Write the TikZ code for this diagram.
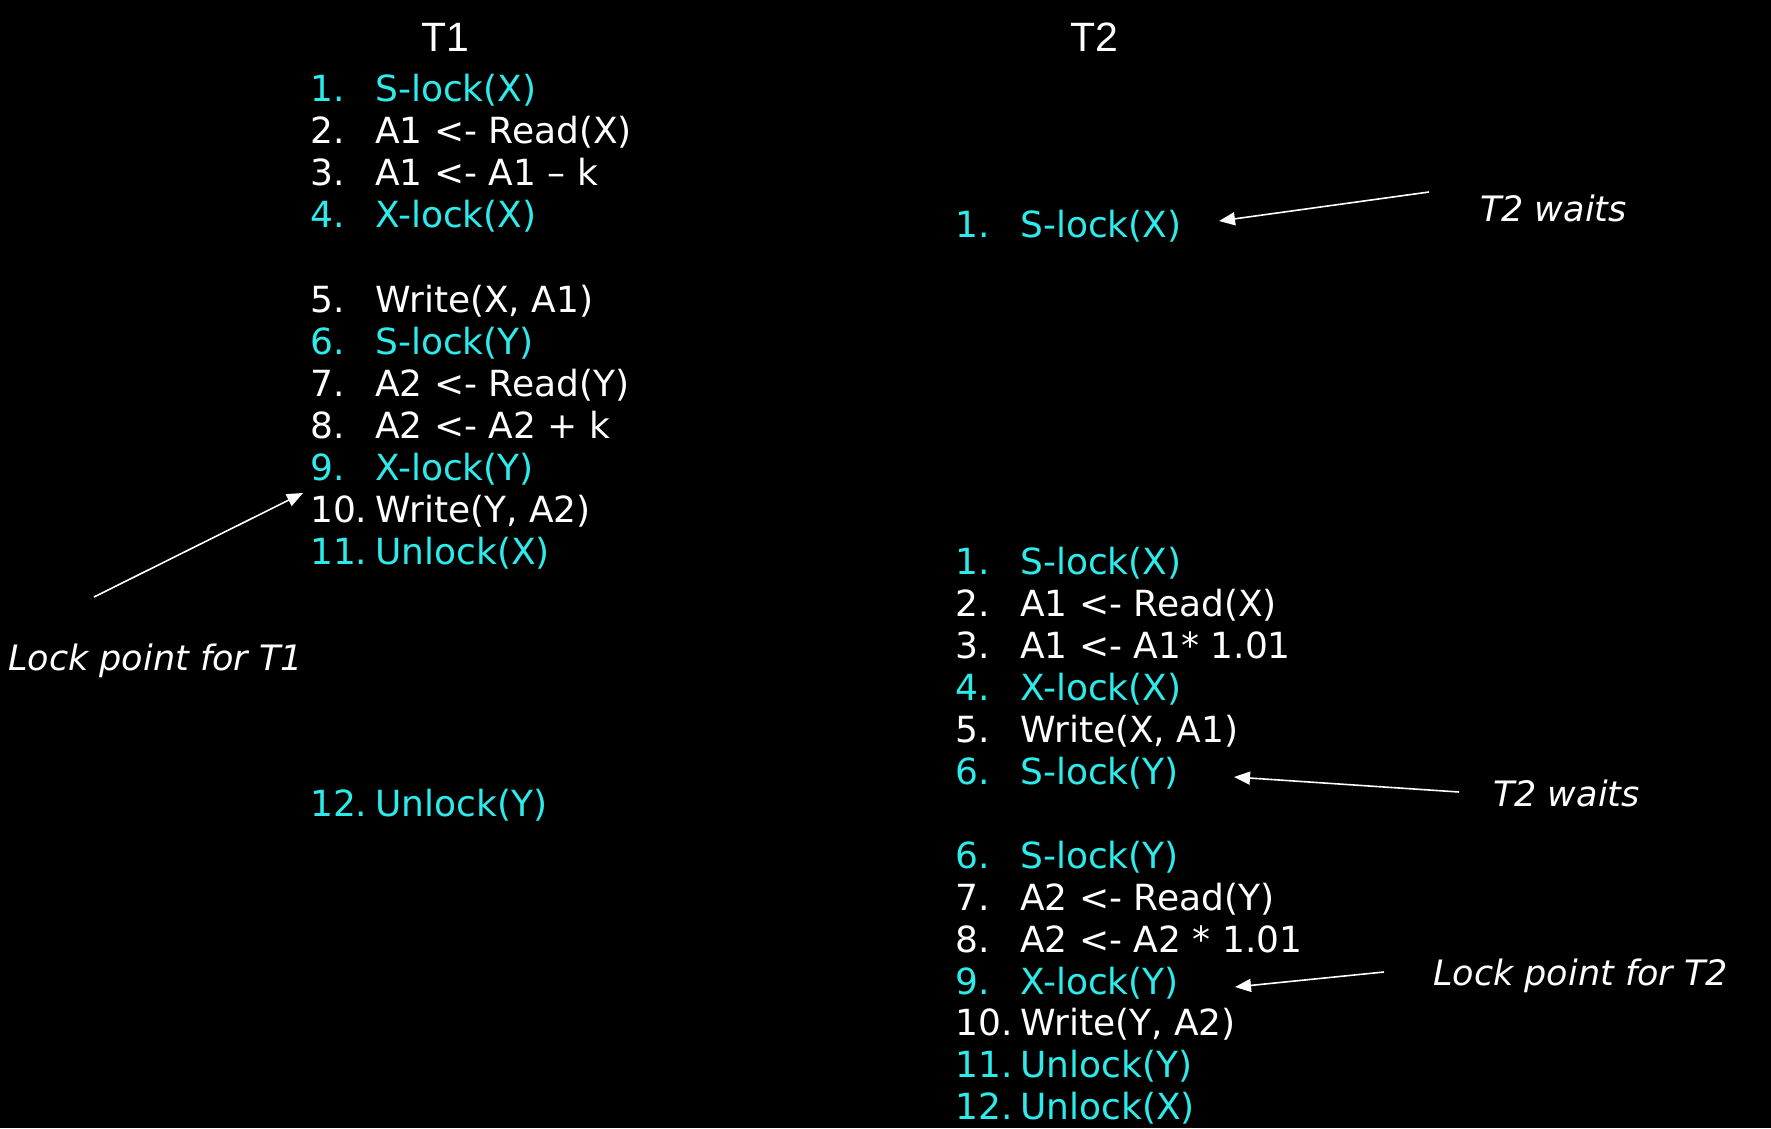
\documentclass[tikz,border=0pt]{standalone}
\usepackage{fontspec}
\setmainfont{DejaVu Sans}
\newfontfamily\titlefont{Liberation Sans}
\usetikzlibrary{arrows.meta}
\definecolor{lockcyan}{RGB}{45,235,235}
\newcommand\lnum[1]{\makebox[65pt][l]{#1}}
\tikzset{
  ln/.style={anchor=base west,inner sep=0pt,font=\fontsize{36}{42}\selectfont,text=white},
  cy/.style={ln,text=lockcyan},
  ttl/.style={anchor=base west,inner sep=0pt,font=\titlefont\fontsize{41}{48}\selectfont,text=white},
  lbl/.style={anchor=base west,inner sep=0pt,font=\itshape\fontsize{35}{42}\selectfont,text=white},
  pointer/.style={draw=white,line width=1.6pt,-{Triangle[length=16pt,width=13pt]}}
}
\begin{document}
\begin{tikzpicture}[x=1pt,y=-1pt]
\useasboundingbox (0,0) rectangle (1771,1128);
\fill[black] (0,0) rectangle (1771,1128);
% titles
\node[ttl] (t1) at (421,51) {T1};
\node[ttl] (t2) at (1070,51) {T2};
% T1 column
\node[cy] (a1)  at (310,101.5) {\lnum{1.}S-lock(X)};
\node[ln] (a2)  at (310,143.6) {\lnum{2.}A1 <- Read(X)};
\node[ln] (a3)  at (310,185.7) {\lnum{3.}A1 <- A1 – k};
\node[cy] (a4)  at (310,227.8) {\lnum{4.}X-lock(X)};
\node[ln] (a5)  at (310,312.0) {\lnum{5.}Write(X, A1)};
\node[cy] (a6)  at (310,354.1) {\lnum{6.}S-lock(Y)};
\node[ln] (a7)  at (310,396.2) {\lnum{7.}A2 <- Read(Y)};
\node[ln] (a8)  at (310,438.3) {\lnum{8.}A2 <- A2 + k};
\node[cy] (a9)  at (310,480.4) {\lnum{9.}X-lock(Y)};
\node[ln] (a10) at (310,522.5) {\lnum{10.}Write(Y, A2)};
\node[cy] (a11) at (310,564.6) {\lnum{11.}Unlock(X)};
\node[cy] (a12) at (310,816.5) {\lnum{12.}Unlock(Y)};
% T2 column
\node[cy] (b0)  at (955,237) {\lnum{1.}S-lock(X)};
\node[cy] (b1)  at (955,574.5) {\lnum{1.}S-lock(X)};
\node[ln] (b2)  at (955,616.4) {\lnum{2.}A1 <- Read(X)};
\node[ln] (b3)  at (955,658.4) {\lnum{3.}A1 <- A1* 1.01};
\node[cy] (b4)  at (955,700.3) {\lnum{4.}X-lock(X)};
\node[ln] (b5)  at (955,742.3) {\lnum{5.}Write(X, A1)};
\node[cy] (b6)  at (955,784.2) {\lnum{6.}S-lock(Y)};
\node[cy] (b6b) at (955,868.1) {\lnum{6.}S-lock(Y)};
\node[ln] (b7)  at (955,910.1) {\lnum{7.}A2 <- Read(Y)};
\node[ln] (b8)  at (955,952.0) {\lnum{8.}A2 <- A2 * 1.01};
\node[cy] (b9)  at (955,994.0) {\lnum{9.}X-lock(Y)};
\node[ln] (b10) at (955,1035.9) {\lnum{10.}Write(Y, A2)};
\node[cy] (b11) at (955,1077.9) {\lnum{11.}Unlock(Y)};
\node[cy] (b12) at (955,1119.8) {\lnum{12.}Unlock(X)};
% labels
\node[lbl] (w1) at (1480,221.5) {T2 waits};
\node[lbl] (w2) at (1493,806.5) {T2 waits};
\node[lbl] (lp2) at (1433,985) {Lock point for T2};
\node[lbl] (lp1) at (8,670) {Lock point for T1};
% arrow coordinates
\coordinate (s1) at (1429,192);
\coordinate (e1) at (1219,221);
\coordinate (s2) at (1459,792);
\coordinate (e2) at (1234,777);
\coordinate (s3) at (1384,972);
\coordinate (e3) at (1235,987);
\coordinate (s4) at (94,597);
\coordinate (e4) at (303,493);
\draw[pointer] (s1) -- (e1);
\draw[pointer] (s2) -- (e2);
\draw[pointer] (s3) -- (e3);
\draw[pointer] (s4) -- (e4);
\end{tikzpicture}
\end{document}
